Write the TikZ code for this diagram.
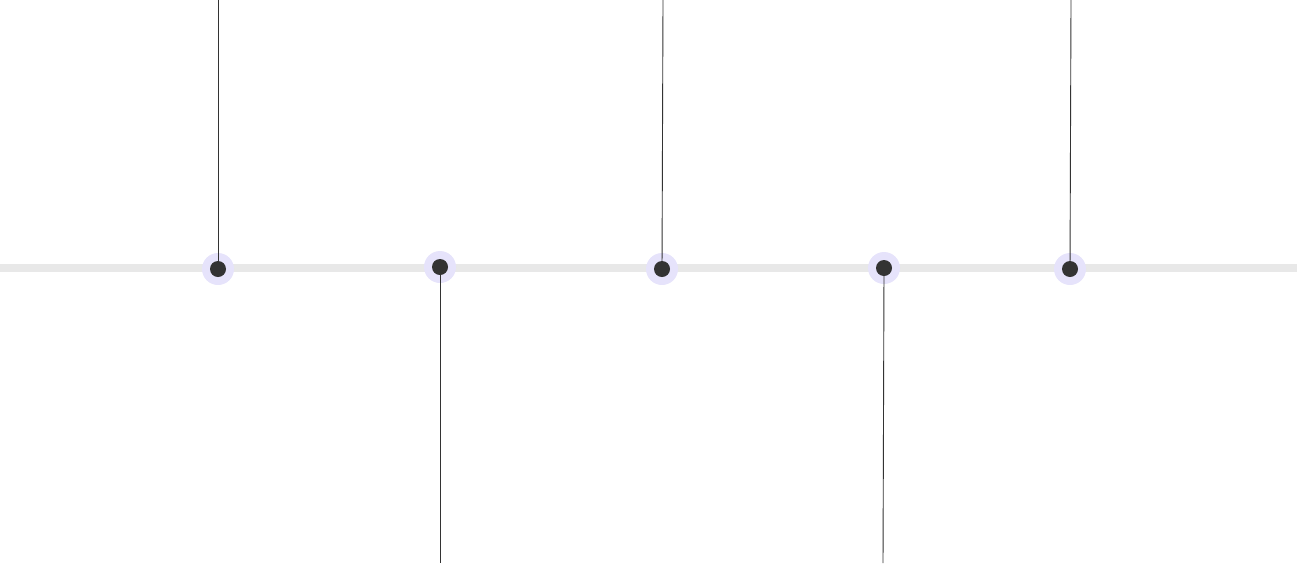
\documentclass[tikz,border=0pt]{standalone}
\usetikzlibrary{positioning}
\definecolor{trackgray}{HTML}{E8E8E8}
\definecolor{halo}{HTML}{E6E3FB}
\definecolor{pin}{HTML}{333333}
\begin{document}
\begin{tikzpicture}[x=1pt, y=-1pt,
    glow/.style={circle, fill=halo, minimum size=32pt, inner sep=0pt},
    dot/.style={circle, fill=pin, minimum size=16pt, inner sep=0pt},
    stem/.style={draw=pin, line width=0.9pt}]
    \useasboundingbox (0,0) rectangle (1297,563);

    % timeline
    \draw[trackgray, line width=8pt] (0,268) -- (1297,268);

    % markers
    \foreach \n/\x/\y in {1/218/269, 2/440/267, 3/662/269, 4/884/268, 5/1070/269}
        \node[glow] (h_\n) at (\x,\y) {};

    % free ends
    \coordinate (e_1) at (218,0);
    \coordinate (e_2) at (440,563);
    \coordinate (e_3) at (663,0);
    \coordinate (e_4) at (883,563);
    \coordinate (e_5) at (1071,0);

    \foreach \n in {1,...,5}
        \draw[stem] (h_\n.center) -- (e_\n);

    \foreach \n in {1,...,5}
        \node[dot] (d_\n) at (h_\n) {};
\end{tikzpicture}
\end{document}
